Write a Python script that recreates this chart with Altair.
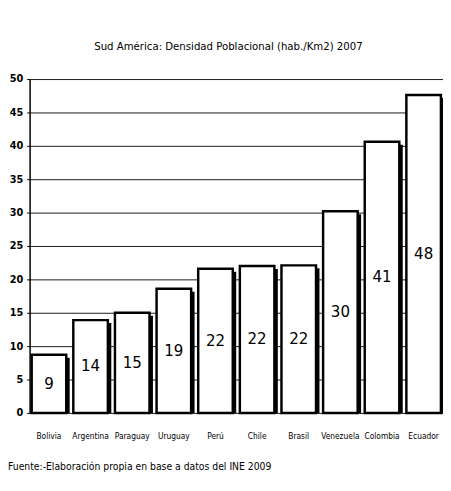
import altair as alt
import pandas as pd

paises = ["Bolivia", "Argentina", "Paraguay", "Uruguay", "Perú", "Chile",
          "Brasil", "Venezuela", "Colombia", "Ecuador"]
densidad = [8.7, 13.9, 15.0, 18.6, 21.6, 22.0, 22.1, 30.2, 40.6, 47.6]
etiquetas = ["9", "14", "15", "19", "22", "22", "22", "30", "41", "48"]
ticks_y = [0, 5, 10, 15, 20, 25, 30, 35, 40, 45, 50]

titulo = "Sud América: Densidad Poblacional (hab./Km2) 2007"
fuente = "Fuente:-Elaboración propia en base a datos del INE 2009"

FONT = "Liberation Sans Narrow, DejaVu Sans Condensed, Arial Narrow, sans-serif"

df = pd.DataFrame({"pais": paises, "v": densidad, "lab": etiquetas})

x = alt.X("pais:N", sort=paises, title=None,
          scale=alt.Scale(paddingInner=0.17, paddingOuter=0.05),
          axis=alt.Axis(labelAngle=0, domain=False, ticks=False,
                        labelPadding=19, labelFontSize=8.5, labelFont=FONT,
                        labelColor="black"))
yscale = alt.Scale(domain=[0, 50], nice=False)
yaxis = alt.Axis(values=ticks_y, grid=True, tickCount=11,
                 gridColor="#1a1a1a", gridWidth=1,
                 domainColor="black", domainWidth=1.5,
                 tickColor="black", tickSize=3,
                 labelFontSize=11, labelFont=FONT,
                 labelFontWeight="bold", labelColor="black",
                 labelPadding=4)

base = alt.Chart(df)

shadow = base.transform_calculate(s="datum.v - 0.45").mark_bar(
    color="black", xOffset=3.5
).encode(x=x, y=alt.Y("s:Q", scale=yscale, title=None, axis=yaxis))

bars = base.mark_bar(fill="white", stroke="black", strokeWidth=2.5).encode(
    x=x, y=alt.Y("v:Q", scale=yscale, title=None, axis=yaxis)
)

labels = base.transform_calculate(m="datum.v / 2").mark_text(
    font=FONT, fontSize=17, color="black", baseline="middle"
).encode(x=x, y=alt.Y("m:Q", scale=yscale, title=None, axis=yaxis),
         text="lab:N")

foot = alt.Chart(pd.DataFrame({"t": [fuente]})).mark_text(
    font=FONT, fontSize=10.5, color="black", align="left", baseline="middle"
).encode(x=alt.value(-22), y=alt.value(395), text="t:N")

chart = alt.layer(shadow, bars, labels, foot).properties(
    width=421, height=340,
    title=alt.TitleParams(titulo, font=FONT, fontSize=11.5, fontWeight="normal",
                          color="black", anchor="middle", dx=-8, offset=21),
    autosize=alt.AutoSizeParams(type="none"),
    padding={"left": 22, "top": 68, "right": 0, "bottom": 67},
).configure_view(stroke=None).configure_axis(gridOpacity=1)

chart.save("out.html", embed_options={"renderer": "svg", "actions": False})
